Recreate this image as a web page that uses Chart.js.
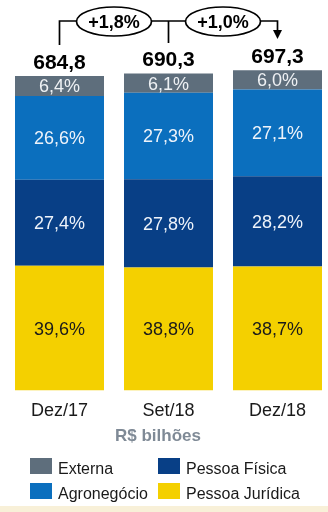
<!DOCTYPE html>
<html>
<head>
<meta charset="utf-8">
<script src="https://cdn.jsdelivr.net/npm/chart.js@4.4.0/dist/chart.umd.min.js"></script>
<style>
  html, body { margin: 0; padding: 0; background: #fff; overflow: hidden; }
  #wrap { width: 328px; height: 512px; overflow: hidden; }
</style>
</head>
<body>
<div id="wrap"><canvas id="myChart" width="340" height="512"></canvas></div>
<script>
var periods = ['Dez/17', 'Set/18', 'Dez/18'];
var totals = [684.8, 690.3, 697.3];          // R$ bilhões
var pessoaJuridica = [39.6, 38.8, 38.7];     // % of total
var pessoaFisica = [27.4, 27.8, 28.2];
var agronegocio = [26.6, 27.3, 27.1];
var externa = [6.4, 6.1, 6.0];
var growth = ['+1,8%', '+1,0%'];

var FONT = '"Liberation Sans", Arial, sans-serif';

function amounts(pcts) {
  return pcts.map(function(p, i) { return totals[i] * p / 100; });
}
function fmt(v) {
  return v.toFixed(1).replace('.', ',');
}

// bottom-to-top stacking order
var series = [
  { label: 'Pessoa Jurídica', pct: pessoaJuridica, color: '#f4d000', text: '#1a1a1a' },
  { label: 'Pessoa Física',   pct: pessoaFisica,   color: '#083f86', text: '#eef3fa' },
  { label: 'Agronegócio',     pct: agronegocio,    color: '#0b6fbe', text: '#eef3fa' },
  { label: 'Externa',         pct: externa,        color: '#5e6e7c', text: '#eef1f4' }
];

var legendOrder = ['Externa', 'Pessoa Física', 'Agronegócio', 'Pessoa Jurídica'];

var overlay = {
  id: 'overlay',
  beforeDraw: function(chart) {
    var c = chart.ctx;
    c.save();
    c.fillStyle = '#f8f0d8';
    c.fillRect(0, 506, chart.width, 6);
    c.restore();
  },
  afterDatasetsDraw: function(chart) {
    var c = chart.ctx;
    c.save();
    c.textAlign = 'center';
    c.textBaseline = 'alphabetic';

    // segment percentages
    c.font = '18px ' + FONT;
    chart.data.datasets.forEach(function(ds, d) {
      var meta = chart.getDatasetMeta(d);
      meta.data.forEach(function(el, i) {
        var mid = (el.y + el.base) / 2;
        c.fillStyle = series[d].text;
        c.fillText(fmt(series[d].pct[i]) + '%', el.x, mid + 6.5);
      });
    });

    // totals above bars
    var top = chart.getDatasetMeta(chart.data.datasets.length - 1).data;
    c.font = 'bold 21px ' + FONT;
    c.fillStyle = '#000';
    top.forEach(function(el, i) {
      c.fillText(fmt(totals[i]), el.x, el.y - 7);
    });

    // growth brackets
    var x0 = top[0].x, x1 = top[1].x, x2 = top[2].x, ly = 21;
    c.strokeStyle = '#000';
    c.lineWidth = 1.7;
    c.beginPath();
    c.moveTo(x0, 45); c.lineTo(x0, ly); c.lineTo(x2, ly); c.lineTo(x2, 31);
    c.moveTo(x1, ly); c.lineTo(x1, 43);
    c.stroke();
    c.fillStyle = '#000';
    c.beginPath();
    c.moveTo(x2 - 4.5, 30); c.lineTo(x2 + 4.5, 30); c.lineTo(x2, 39);
    c.closePath();
    c.fill();

    var centers = [(x0 + x1) / 2, (x1 + x2) / 2];
    c.font = 'bold 18px ' + FONT;
    centers.forEach(function(cx, i) {
      c.beginPath();
      c.ellipse(cx, ly + 0.5, 37.5, 14.5, 0, 0, Math.PI * 2);
      c.fillStyle = '#fff';
      c.fill();
      c.stroke();
      c.fillStyle = '#000';
      c.fillText(growth[i], cx, ly + 7);
    });

    // unit caption
    c.font = 'bold 17px ' + FONT;
    c.fillStyle = '#7f8a96';
    c.fillText('R$ bilhões', 158, 441);

    // legend, two columns
    c.font = '16px ' + FONT;
    c.textAlign = 'left';
    legendOrder.forEach(function(name, k) {
      var s = series.filter(function(x) { return x.label === name; })[0];
      var col = k % 2, row = Math.floor(k / 2);
      var bx = col === 0 ? 30 : 158;
      var by = row === 0 ? 458 : 483;
      c.fillStyle = s.color;
      c.fillRect(bx, by, 22, 16);
      c.fillStyle = '#1a1a1a';
      c.fillText(name, bx + 28, by + 15.5);
    });
    c.restore();
  }
};

var ctx = document.getElementById('myChart').getContext('2d');
var myChart = new Chart(ctx, {
  type: 'bar',
  data: {
    labels: periods,
    datasets: series.map(function(s) {
      return {
        label: s.label,
        data: amounts(s.pct),
        backgroundColor: s.color,
        borderWidth: 0,
        categoryPercentage: 1,
        barPercentage: 0.8165
      };
    })
  },
  options: {
    responsive: false,
    animation: false,
    layout: { padding: { left: 5, right: 8, top: 23, bottom: 80 } },
    plugins: {
      legend: { display: false },
      tooltip: { enabled: false }
    },
    scales: {
      x: {
        stacked: true,
        grid: { display: false, drawTicks: false },
        border: { display: false },
        ticks: { color: '#1a1a1a', padding: 10, font: { family: FONT, size: 18 } }
      },
      y: {
        stacked: true,
        display: false,
        min: 0,
        max: 800
      }
    }
  },
  plugins: [overlay]
});
</script>
</body>
</html>
